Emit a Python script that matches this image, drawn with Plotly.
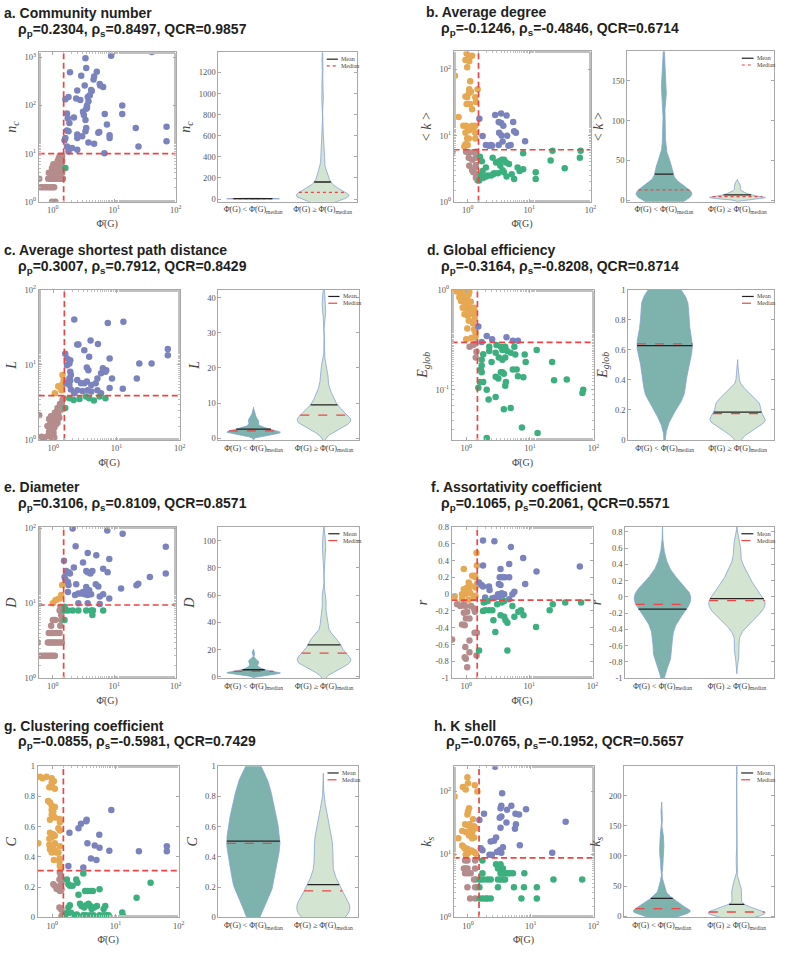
import numpy as np
import plotly.graph_objects as go

W, H = 799, 958

# ---------------- data ----------------
XM = 1.5            # median of Phi(G): vertical split
XR = [-0.23, 2.0]   # log10 range of Phi(G)

pts_a = [(0.6,3),(0.63,2),(0.68,2),(0.74,2),(0.8,2),(0.86,2),(0.92,2),(0.98,2),(1.05,2),
         (0.84,3),(0.9,3),(0.96,3),(1.0,3),(1.08,3),(1.15,3),(1.22,3),(1.3,3),(1.38,3),(1.46,3),
         (0.97,1),(1.1,1),(0.86,4),(0.93,4),(1.0,4),(1.1,4),(1.2,4),(1.3,4),(1.42,4),
         (0.97,5),(1.05,5),(1.15,5),(1.25,5),(1.35,5),(1.45,5),(1.02,6),(1.12,6),(1.25,6),(1.38,6),
         (1.2,7),(1.32,7),(1.42,7),(1.25,8),(1.38,8),(1.3,9),(1.42,9),(1.6,5),
         (40.9,1290),(8.9,1070),(3.4,950),(3.5,600),(1.9,490),(2.9,415),(5.2,500),(4.7,400),
         (4.6,345),(5.8,280),(5.9,260),(6.6,240),(3.3,260),(4.2,210),(4.3,200),(2.5,205),
         (4.0,163),(3.7,150),(1.8,150),(1.6,135),(2.4,140),(2.8,130),(3.8,122),(3.6,100),
         (3.6,90),(3.5,85),(3.1,74),(3.2,63),(1.7,68),(1.75,54),(2.2,56),(7.0,66),(13.5,100),
         (13.5,66),(3.4,50),(1.86,43),(7.6,40),(3.5,34),(3.4,29),(1.7,30),(1.8,29),(5.7,28),
         (5.5,27),(2.5,25),(3.0,23),(2.5,21),(8.4,24),(8.4,21),(71,36),(71,18),(22.4,34),
         (24.8,14),(3.8,17),(4.7,16),(1.6,21),(1.55,19),(1.7,14),(1.8,13),(2.05,13),(2.5,12),
         (1.8,11),(6.9,10.2)]

pts_b = [(0.62,80),(0.96,174),(1.18,160),(0.92,138),(1.02,145),(1.06,133),(0.98,108),(1.1,66),
         (1.45,50),(1.06,50),(1.05,44),(1.13,46),(0.98,38),(0.92,39),(1.33,38),(0.96,30),(1.09,30),
         (1.36,32),(1.18,25),(0.71,19),(0.85,14),(0.94,14),(1.0,13),(1.18,14),(1.33,14),(1.06,12),
         (0.92,11),(1.24,13),(1.33,11),(0.98,9),(1.04,9),(1.33,9),(0.92,7.4),(0.88,6.8),(1.0,7.2),
         (0.57,5.7),(0.94,5.7),(1.04,5.6),(1.24,5.6),(1.36,5.7),(1.04,4.6),(1.18,4.3),(1.36,4.6),
         (1.06,3.5),(1.36,3.6),(1.18,3.0),(1.24,2.8),(1.33,3.3),(1.4,2.6),(1.36,2.3),(1.45,2.1),
         (1.55,18),(1.75,9.8),(1.98,7.2),(2.4,7.2),(2.5,7.0),(2.8,20.5),(3.5,21.6),(3.2,16),
         (3.5,15.5),(3.8,14),(4.3,20),(5.5,16),(3.25,11),(3.55,10),(4.4,9.9),(5.7,11.6),(6.1,11),
         (8.6,8.2),(3.7,8.1),(5.0,7.2),(4.6,7.0),(3.2,7.2),(2.2,7.0),
         (1.58,4.8),(1.7,4.1),(1.54,2.1),(1.65,2.5),(1.8,2.3),(1.75,2.9),(1.98,3.3),(2.1,2.5),
         (2.4,2.5),(2.6,2.6),(2.55,4.6),(2.9,3.9),(3.25,4.1),(3.4,3.5),(3.6,4.3),(3.9,4.3),(3.7,3.0),
         (3.9,2.8),(4.3,2.4),(4.2,3.9),(4.7,3.7),(5.2,2.6),(5.7,2.2),(6.5,3.3),(7.0,2.9),(8.0,3.1),
         (8.0,5.4),(12.8,2.8),(12.8,2.2),(22.4,4.2),(24,5.9),(38,3.2),(69,5.9),(67,4.6),(2.7,2.7),
         (3.1,2.7),(2.0,2.4)]

pts_c = [(0.6,2.13),(0.65,1.1),(0.72,1.08),(0.81,1.12),(0.92,1.1),(0.98,1.05),(1.04,1.08),(0.86,1.3),
         (0.92,1.38),(1.01,1.25),(0.81,1.53),(0.9,1.66),(0.93,1.78),(1.1,1.6),(0.86,1.9),(0.98,1.97),
         (1.04,1.87),(1.06,2.3),(1.14,2.4),(1.1,2.07),(1.17,2.66),(1.3,2.75),(1.32,2.53),(1.37,3.1),
         (1.4,3.4),(1.46,3.6),(1.25,1.97),(1.17,1.7),(0.92,2.07),(1.04,1.45),(1.2,2.2),(1.28,3.0),
         (1.06,4.2),(1.2,5.2),(1.3,5.0),(1.4,7.3),(1.46,6.2),(1.37,5.4),(1.35,4.6),
         (1.55,2.66),(1.8,3.6),(2.1,3.4),(2.6,3.5),(3.3,3.8),(3.7,3.6),(4.4,3.35),(5.4,3.8),(6.7,3.6),
         (2.15,40),(7.3,36),(12.9,37.5),(2.4,18.7),(2.5,18.7),(3.9,21),(5.1,19),(3.1,15.6),(3.7,12.8),
         (1.55,14),(1.65,12.1),(1.8,10.4),(1.86,11.5),(1.65,9.9),(7.8,12.1),(1.86,8.1),(1.9,7.3),
         (3.4,9.2),(3.6,8.5),(6.1,9.0),(6.9,8.5),(6.7,8.1),(23,10.4),(36,10.4),(65,16.2),(65,13.4),
         (21,6.6),(12.6,4.8),(8.5,6.6),(5.7,7.7),(5.0,6.6),(2.4,6.3),(2.75,5.7),(3.1,5.7),(3.4,6.0),
         (2.4,4.6),(2.9,4.5),(3.5,4.6),(4.0,4.4),(4.7,5.7),(5.0,4.6),(5.7,4.2),(1.6,5.7),(1.8,5.4),
         (1.9,4.7),(7.8,4.9),(1.8,6.6),(1.86,6.2),(4.0,5.4),(2.15,4.2)]

pts_d = [(0.63,1.0),(0.71,0.96),(0.81,0.93),(0.88,0.96),(0.96,0.95),(1.04,0.98),(0.78,0.84),(0.88,0.86),
         (1.0,0.84),(1.09,0.89),(0.83,0.77),(0.94,0.74),(1.06,0.78),(1.18,0.76),(0.88,0.66),(1.0,0.65),
         (1.1,0.67),(1.24,0.64),(0.94,0.57),(1.06,0.55),(1.2,0.58),(1.36,0.61),(0.57,0.48),(1.1,0.49),
         (1.36,0.51),(1.28,0.46),(1.33,0.66),(1.3,0.57),(1.04,0.41),(1.33,0.4),(1.4,0.37),(1.0,0.32),
         (1.4,0.34),(1.2,0.33),(0.92,0.9),(1.12,0.95),(0.98,0.7),(1.15,0.62),
         (1.13,0.27),(1.28,0.28),(1.4,0.29),(1.45,0.24),(1.41,0.21),
         (1.55,0.43),(2.1,0.345),(2.55,0.32),(4.3,0.335),(1.75,0.3),(5.4,0.31),(6.5,0.31),
         (1.85,0.227),(1.75,0.2),(1.75,0.175),(1.7,0.16),(1.75,0.15),(1.55,0.105),(1.65,0.12),
         (1.85,0.12),(2.1,0.1),(2.25,0.08),(2.9,0.085),(2.3,0.27),(2.3,0.245),(2.9,0.235),(2.5,0.19),
         (3.0,0.28),(3.5,0.27),(3.7,0.25),(4.1,0.27),(4.4,0.245),(5.0,0.235),(3.25,0.21),(3.7,0.2),
         (4.1,0.21),(3.5,0.15),(3.7,0.15),(3.9,0.145),(4.2,0.12),(4.1,0.11),(2.9,0.135),(3.2,0.13),
         (5.7,0.27),(5.9,0.225),(5.4,0.16),(6.2,0.16),(8.3,0.225),(8.6,0.19),(6.5,0.137),(7.9,0.134),
         (12.8,0.25),(22.4,0.19),(24,0.125),(38,0.127),(69,0.1),(67,0.093),(3.9,0.064),(5.0,0.066),
         (7.5,0.042),(13.2,0.037),(2.1,0.033)]

pts_e = [(0.62,2),(0.68,2),(0.74,2),(0.8,2),(0.87,2),(0.93,2),(1.0,2),(1.08,2),
         (0.57,3),(0.83,3),(0.88,3),(0.93,3),(0.98,3),(1.05,3),(1.12,3),(1.2,3),(1.3,3),(1.4,3),
         (0.86,4),(0.94,4),(1.0,4),(1.13,4),(1.29,4),(0.94,5),(1.32,5),(1.0,6),(1.1,6),(1.37,6),
         (1.37,7),(1.29,8),(1.33,9),
         (1.0,10),(1.1,11),(1.2,11.3),(1.29,11.6),(1.37,12.9),(1.42,17.5),
         (1.55,8),(1.76,8),(2.1,8),(2.6,8),(3.5,8),(4.2,8),(4.5,8),(6.6,8),(4.4,7),(1.55,6),(1.55,9),
         (2.1,100),(7.7,94),(13.7,85),(69,57),(69,25),(2.35,58),(3.7,47),(5.1,44),(1.52,37),(3.1,35),
         (8.3,39),(6.6,29),(3.5,27),(3.7,26),(4.1,25),(4.4,27),(7.8,26),(1.65,27),(1.8,26),(1.9,25),
         (1.55,22.5),(1.6,20.8),(1.76,19.3),(1.8,17.5),(2.2,30),(2.4,18),(3.5,16.5),(3.9,15),
         (5.0,18),(5.5,16.8),(12.9,15.8),(23,17.4),(24.6,18.3),(38,22.4),(1.76,14.2),(2.3,12.9),
         (2.6,13.5),(2.9,13.5),(3.1,14.2),(3.3,13.2),(3.7,12.9),(4.2,13.2),(5.8,12.3),(6.6,13.2),
         (2.6,10),(3.7,10),(5.8,9.8),(8.3,11.6)]

pts_f = [(0.66,-0.025),(0.92,0.3),(1.46,0.49),(1.48,0.34),(1.36,0.22),(1.4,0.2),(1.25,0.22),(1.1,0.14),
         (1.04,0.08),(1.17,0.1),(0.92,0.06),(0.97,0.05),(1.1,0.06),(0.86,0.0),(0.97,0.0),(1.04,0.02),
         (1.17,0.01),(0.86,-0.06),(1.1,-0.065),(1.33,-0.04),(1.4,-0.02),(1.48,0.12),(1.4,0.08),
         (0.6,-0.54),(0.72,-0.12),(0.81,-0.14),(0.92,-0.12),(0.97,-0.14),(0.92,-0.22),(1.04,-0.21),
         (1.2,-0.14),(1.33,-0.17),(1.38,-0.21),(0.99,-0.29),(1.13,-0.29),(0.86,-0.36),(0.95,-0.37),
         (1.36,-0.46),(1.48,-0.46),(1.13,-0.55),(0.97,-0.63),(1.13,-0.69),(0.95,-0.75),(0.99,-0.77),
         (1.04,-0.87),(1.46,-0.73),
         (1.85,0.64),(2.8,0.63),(5.1,0.56),(4.8,0.36),(8.0,0.43),(3.5,0.3),(13,0.27),(63,0.33),
         (1.85,0.34),(1.6,0.14),(1.75,0.11),(1.85,0.09),(2.3,0.09),(2.35,0.05),(3.4,0.2),(3.75,0.2),
         (4.1,0.2),(4.8,0.2),(3.3,0.12),(3.5,0.11),(3.2,0.0),(3.66,0.01),(4.0,0.0),(2.9,-0.04),
         (3.3,-0.03),(3.75,-0.01),(5.4,0.0),(5.8,0.03),(4.8,-0.06),(8.6,0.12),(2.0,-0.04),(2.6,-0.05),
         (1.6,-0.67),(1.9,-0.1),(2.0,-0.09),(2.2,-0.08),(1.85,-0.2),(2.0,-0.19),(2.3,-0.19),(2.6,-0.19),
         (2.7,-0.31),(2.9,-0.45),(3.1,-0.12),(3.66,-0.1),(4.0,-0.08),(3.5,-0.25),(4.0,-0.27),
         (4.2,-0.31),(4.5,-0.34),(5.4,-0.14),(5.8,-0.27),(6.7,-0.21),(7.4,-0.19),(8.1,-0.25),
         (4.5,-0.67),(12.8,-0.39),(21,-0.19),(23.5,-0.12),(37,-0.1),(66,-0.1)]

pts_g = [(0.6,0.49),(0.64,0.93),(0.7,0.92),(0.81,0.93),(0.98,0.92),(0.98,0.89),(1.06,0.9),(0.9,0.86),
         (1.0,0.86),(1.1,0.85),(0.86,0.77),(0.92,0.76),(0.98,0.74),(1.04,0.73),(1.1,0.73),(0.98,0.71),
         (1.04,0.7),(0.98,0.68),(1.04,0.67),(1.1,0.66),(1.3,0.65),(1.32,0.63),(0.92,0.645),(1.04,0.55),
         (0.98,0.53),(1.1,0.54),(0.92,0.56),(0.9,0.52),(1.25,0.59),(1.32,0.575),(0.92,0.45),(1.04,0.46),
         (1.1,0.44),(0.9,0.48),(0.98,0.43),(1.17,0.43),(1.25,0.43),(1.3,0.39),(1.06,0.38),(1.3,0.37),
         (1.32,0.34),(1.37,0.32),(1.1,0.49),(1.32,0.47),
         (1.32,0.295),(1.37,0.27),(1.4,0.256),(1.3,0.25),(1.04,0.22),(1.1,0.21),(1.17,0.19),(1.25,0.186),
         (1.32,0.175),(1.4,0.186),(1.4,0.23),(1.35,0.21),(1.3,0.066),(1.37,0.06),(1.4,0.05),(1.4,0.01),
         (1.87,0.56),(2.6,0.59),(2.85,0.62),(3.45,0.635),(3.5,0.645),(8.6,0.71),(3.6,0.49),(4.7,0.475),
         (5.6,0.46),(5.55,0.547),(8.0,0.44),(23.5,0.437),(65,0.47),(65,0.437),(4.1,0.39),(5.0,0.38),
         (1.8,0.34),(3.1,0.33),
         (3.1,0.29),(1.7,0.25),(1.8,0.22),(1.9,0.21),(2.1,0.21),(2.4,0.25),(2.5,0.23),(2.6,0.15),
         (3.3,0.175),(3.6,0.175),(4.0,0.175),(4.4,0.175),(5.6,0.186),(36,0.23),(21.6,0.13),(1.6,0.01),
         (1.7,0.03),(1.8,0.066),(1.9,0.08),(2.0,0.03),(2.2,0.015),(2.45,0.02),(2.75,0.09),(2.9,0.076),
         (3.2,0.066),(3.45,0.08),(3.75,0.09),(4.0,0.076),(4.2,0.055),(4.6,0.066),(5.1,0.076),
         (3.1,0.015),(3.45,0.015),(4.0,0.015),(4.5,0.015),(5.6,0.015),(6.5,0.015),(7.2,0.015),
         (7.8,0.015),(6.5,0.055),(6.9,0.076),(12.8,0.033),(13.2,0.01)]

pts_h = [(0.9,8),(0.98,8),(1.3,8),(0.86,6),(0.92,6),(0.98,6),(1.3,6),(0.9,5),(1.0,5),(1.1,5),
         (1.33,4),(1.25,4),(0.98,3),(1.3,3),(1.38,3),(1.08,2),(1.3,2),
         (0.61,83),(0.98,168),(1.0,135),(0.83,117),(0.92,107),(1.41,100),(1.28,125),(1.04,54),(1.0,48),
         (0.98,43),(1.2,36),(0.9,30),(0.98,29),(1.1,26),(1.06,30),(1.25,28),(1.33,26),(0.81,23.5),
         (0.92,22.7),(1.17,22.7),(1.04,20),(0.7,18),(1.17,18),(1.25,18.6),(0.81,13.8),(0.86,13),
         (0.9,12.3),(0.98,12.3),(1.04,10.9),(1.14,11.5),(1.25,10.9),(0.56,9.9),(0.92,9.9),(0.98,10.2),
         (1.33,10.2),
         (2.7,247),(3.5,93),(3.4,59),(3.3,54),(4.2,51),(4.9,59),(8.4,52),(5.7,44),(6.5,43),(3.2,38),
         (3.4,40),(1.8,44),(1.52,35),(4.1,32),(5.8,30),(5.6,25.5),(3.3,26.5),(36,33),(2.8,18.5),
         (2.6,16.5),(2.3,16),(1.6,12.5),(1.7,11.6),(3.6,13),(3.2,11.6),(2.9,10.9),(6.7,14),(2.2,9.9),
         (2.4,9.9),(22,10.6),(3.4,10.6),
         (1.7,8),(2.8,7),(3.3,7),(3.0,6),(3.6,6),(1.7,5),(3.3,5),(3.6,5),(3.9,5),(4.3,5),(4.7,5),
         (5.2,5),(7.9,5),(1.52,4),(1.6,4),(1.8,4),(2.05,4),(2.3,4),(3.0,4),(3.3,4),(3.6,4),(3.9,4),
         (23,4),(66,4),(1.52,3),(3.0,3),(5.4,3),(7.8,3),(12.5,3),(1.52,2),(1.7,2),(1.9,2),(2.05,2),
         (2.3,2),(7.1,2),(12.5,2)]

titles = ["a. Community number", "b. Average degree", "c. Average shortest path distance",
          "d. Global efficiency", "e. Diameter", "f. Assortativity coefficient",
          "g. Clustering coefficient", "h. K shell"]
rho_p = ["0.2304", "-0.1246", "0.3007", "-0.3164", "0.3106", "0.1065", "-0.0855", "-0.0765"]
rho_s = ["0.8497", "-0.4846", "0.7912", "-0.8208", "0.8109", "0.2061", "-0.5981", "-0.1952"]
qcr = ["0.9857", "0.6714", "0.8429", "0.8714", "0.8571", "0.5571", "0.7429", "0.5657"]
y_labels = ["<i>n<sub>c</sub></i>", "&lt; <i>k</i> &gt;", "<i>L</i>", "<i>E<sub>glob</sub></i>",
            "<i>D</i>", "<i>r</i>", "<i>C</i>", "<i>k<sub>s</sub></i>"]
y_thresh = [10, 6.1, 3.9, 0.298, 9.5, -0.07, 0.31, 8.8]
y_log = [True, True, True, True, True, False, False, True]
y_range_sc = [[0, 3.1], [0, 2.27], [0, 2.0], [-1.5, 0], [0, 2.02], [-1, 0.8], [0, 1], [0, 2.4]]
y_ticks_sc = [[1, 10, 100, 1000], [1, 10, 100], [1, 10, 100], [0.1, 1], [1, 10, 100],
              [-1, -0.8, -0.6, -0.4, -0.2, 0, 0.2, 0.4, 0.6, 0.8], [0, 0.2, 0.4, 0.6, 0.8, 1],
              [1, 10, 100]]
y_range_vi = [[-25, 1390], [-2, 187], [-0.5, 42.3], [0, 1.0], [-1, 110], [-1, 0.86], [0, 1], [-2, 249]]
y_ticks_vi = [[0, 200, 400, 600, 800, 1000, 1200], [0, 50, 100, 150], [0, 10, 20, 30, 40],
              [0, 0.2, 0.4, 0.6, 0.8, 1], [0, 20, 40, 60, 80, 100],
              [-1, -0.8, -0.6, -0.4, -0.2, 0, 0.2, 0.4, 0.6, 0.8], [0, 0.2, 0.4, 0.6, 0.8, 1],
              [0, 50, 100, 150, 200]]
median_dash = ["dot", "dot", "dash", "dash", "dash", "dash", "dash", "dash"]
x_ticks = [1, 10, 100]
x_ticktext = ["10<sup>0</sup>", "10<sup>1</sup>", "10<sup>2</sup>"]
vi_ticktext = ["Φ̄(G) &lt; Φ̄(G)<sub>median</sub>", "Φ̄(G) ≥ Φ̄(G)<sub>median</sub>"]
all_pts = [pts_a, pts_b, pts_c, pts_d, pts_e, pts_f, pts_g, pts_h]

# ---------------- layout geometry (pixels) ----------------
# (scatter x0,x1, violin x0,x1, y0,y1)
geom = [(39, 177, 220, 360, 47, 198), (457, 595, 632, 780, 46, 198),
        (39, 181, 220, 362, 287, 439), (455, 598, 633, 780, 287, 439),
        (39, 177, 220, 362, 527, 680), (455, 597, 630, 780, 527, 680),
        (38, 180, 220, 361, 769, 922), (457, 598, 629, 780, 769, 922)]
title_pos = [((2, 7), (16, 24)), ((427, 6), (442, 23)), ((2, 247), (16, 264)), ((428, 247), (442, 264)),
             ((2, 487), (16, 504)), ((432, 487), (442, 504)), ((2, 728), (16, 745)), ((435, 728), (447, 745))]

C_OR, C_BR, C_PU, C_GR = "#e6a851", "#b58c8c", "#7b83be", "#3caf7f"
RED = "rgb(238,68,68)"
SERIF = "Liberation Serif, DejaVu Serif, serif"
SANS = "Liberation Sans, Arial, sans-serif"


def xd(p0, p1):
    return [p0 / W, p1 / W]


def yd(p0, p1):
    return [1 - p1 / H, 1 - p0 / H]


def kde_shape(vals, halfw=0.38, npt=500):
    v = np.asarray(vals, float)
    n = len(v)
    sd = v.std(ddof=1)
    q75, q25 = np.percentile(v, [75, 25])
    s = min(sd, (q75 - q25) / 1.34) if q75 > q25 else sd
    bw = 0.9 * s * n ** (-0.2)
    g = np.linspace(v.min() - 3 * bw, v.max() + 3 * bw, npt)
    d = np.exp(-0.5 * ((g[:, None] - v[None, :]) / bw) ** 2).sum(1)
    return g, d / d.max() * halfw


fig = go.Figure()
layout = dict(width=W, height=H, margin=dict(l=0, r=0, t=0, b=0), autosize=False,
              paper_bgcolor="white", plot_bgcolor="white", showlegend=False)
annotations, shapes = [], []

tickfont = dict(family=SERIF, size=8.5, color="#555")
base_ax = dict(showline=True, linecolor="#a8a8a8", linewidth=1, mirror="ticks", ticks="inside",
               ticklen=3, tickcolor="#a8a8a8", tickfont=tickfont, showgrid=False, zeroline=False)
DASH = "6px,3.5px"

for i in range(8):
    sx0, sx1, vx0, vx1, py0, py1 = geom[i]
    ns, nv = 2 * i + 1, 2 * i + 2
    xs, ys = ("x" if ns == 1 else f"x{ns}"), ("y" if ns == 1 else f"y{ns}")
    xv, yv = f"x{nv}", f"y{nv}"
    pts = np.array(all_pts[i], float)
    px, py = pts[:, 0], pts[:, 1]
    thr = y_thresh[i]
    left = px < XM
    hi = py >= thr
    groups = [(left & hi, C_OR), (left & ~hi, C_BR), (~left & hi, C_PU), (~left & ~hi, C_GR)]
    for m, c in groups:
        fig.add_trace(go.Scatter(x=px[m], y=py[m], mode="markers", xaxis=xs, yaxis=ys,
                                 marker=dict(size=6.5, color=c, line=dict(width=0)),
                                 hoverinfo="skip"))
    yr = y_range_sc[i]
    yspan = [10 ** yr[0], 10 ** yr[1]] if y_log[i] else yr
    xspan = [10 ** XR[0], 10 ** XR[1]]
    fig.add_trace(go.Scatter(x=xspan, y=[thr, thr], mode="lines", xaxis=xs, yaxis=ys,
                             line=dict(color=RED, width=1.7, dash=DASH), hoverinfo="skip"))
    fig.add_trace(go.Scatter(x=[XM, XM], y=yspan, mode="lines", xaxis=xs, yaxis=ys,
                             line=dict(color=RED, width=1.7, dash=DASH), hoverinfo="skip"))

    # scatter axes
    xa = dict(base_ax, type="log", range=XR, domain=xd(sx0, sx1), anchor=ys,
              tickvals=x_ticks, ticktext=x_ticktext,
              minor=dict(ticks="inside", ticklen=2, tickcolor="#c0c0c0"),
              title=dict(text="Φ̄(G)", font=dict(family=SERIF, size=10, color="#444"), standoff=6))
    if y_log[i]:
        tv = y_ticks_sc[i]
        tt = ["10<sup>%d</sup>" % round(np.log10(t)) for t in tv]
        ya = dict(base_ax, type="log", range=yr, tickvals=tv, ticktext=tt,
                  minor=dict(ticks="inside", ticklen=2, tickcolor="#c0c0c0"))
    else:
        tv = y_ticks_sc[i]
        ya = dict(base_ax, type="linear", range=yr, tickvals=tv,
                  ticktext=[("%g" % t) for t in tv])
    ya.update(domain=yd(py0, py1), anchor=xs,
              title=dict(text=y_labels[i], font=dict(family=SERIF, size=14, color="#444"), standoff=4))
    layout["xaxis" if ns == 1 else f"xaxis{ns}"] = xa
    layout["yaxis" if ns == 1 else f"yaxis{ns}"] = ya

    # violins
    groups_v = [(1, py[left], "#7db3ac"), (2, py[~left], "#d3e4d0")]
    for pos, vals, col in groups_v:
        g, w = kde_shape(vals)
        fig.add_trace(go.Scatter(x=np.concatenate([pos - w, (pos + w)[::-1]]),
                                 y=np.concatenate([g, g[::-1]]), mode="lines", fill="toself",
                                 fillcolor=col, line=dict(color="#86a3d6", width=0.8),
                                 xaxis=xv, yaxis=yv, hoverinfo="skip"))
        mn, md = float(np.mean(vals)), float(np.median(vals))
        wm, wd = float(np.interp(mn, g, w)), float(np.interp(md, g, w))
        fig.add_trace(go.Scatter(x=[pos - wd, pos + wd], y=[md, md], mode="lines",
                                 line=dict(color=RED, width=1.3, dash=median_dash[i]),
                                 xaxis=xv, yaxis=yv, hoverinfo="skip"))
        fig.add_trace(go.Scatter(x=[pos - wm, pos + wm], y=[mn, mn], mode="lines",
                                 line=dict(color="#222", width=1.3),
                                 xaxis=xv, yaxis=yv, hoverinfo="skip"))
    tvv = y_ticks_vi[i]
    layout[f"xaxis{nv}"] = dict(base_ax, range=[0.5, 2.5], domain=xd(vx0, vx1), anchor=yv,
                                tickvals=[1, 2], ticktext=vi_ticktext, ticks="",
                                tickfont=dict(family=SERIF, size=8, color="#444"))
    layout[f"yaxis{nv}"] = dict(base_ax, range=y_range_vi[i], domain=yd(py0, py1), anchor=xv,
                                tickvals=tvv, ticktext=[("%g" % t) for t in tvv],
                                title=dict(text=y_labels[i], font=dict(family=SERIF, size=14, color="#444"),
                                           standoff=4))
    # mini legend inside violin axes
    for k, (lab, col, dsh) in enumerate([("Mean", "#222", "solid"), ("Median", RED, median_dash[i])]):
        yy = 0.955 - k * 0.045
        shapes.append(dict(type="line", xref=f"{xv} domain", yref=f"{yv} domain",
                           x0=0.78, x1=0.86, y0=yy, y1=yy, line=dict(color=col, width=1.2, dash=dsh)))
        annotations.append(dict(text=lab, xref=f"{xv} domain", yref=f"{yv} domain", x=0.87, y=yy,
                                xanchor="left", yanchor="middle", showarrow=False,
                                font=dict(family=SERIF, size=6, color="#444")))

    # titles
    (t1x, t1y), (t2x, t2y) = title_pos[i]
    annotations.append(dict(text="<b>%s</b>" % titles[i], xref="paper", yref="paper",
                            x=t1x / W, y=1 - t1y / H, xanchor="left", yanchor="middle",
                            showarrow=False, font=dict(family=SANS, size=14, color="#231f20")))
    annotations.append(dict(text="<b>ρ<sub>p</sub>=%s, ρ<sub>s</sub>=%s, QCR=%s</b>"
                                 % (rho_p[i], rho_s[i], qcr[i]),
                            xref="paper", yref="paper", x=t2x / W, y=1 - t2y / H,
                            xanchor="left", yanchor="middle", showarrow=False,
                            font=dict(family=SANS, size=14, color="#231f20")))

layout["annotations"] = annotations
layout["shapes"] = shapes
fig.update_layout(**layout)
fig.write_html("out.html")
